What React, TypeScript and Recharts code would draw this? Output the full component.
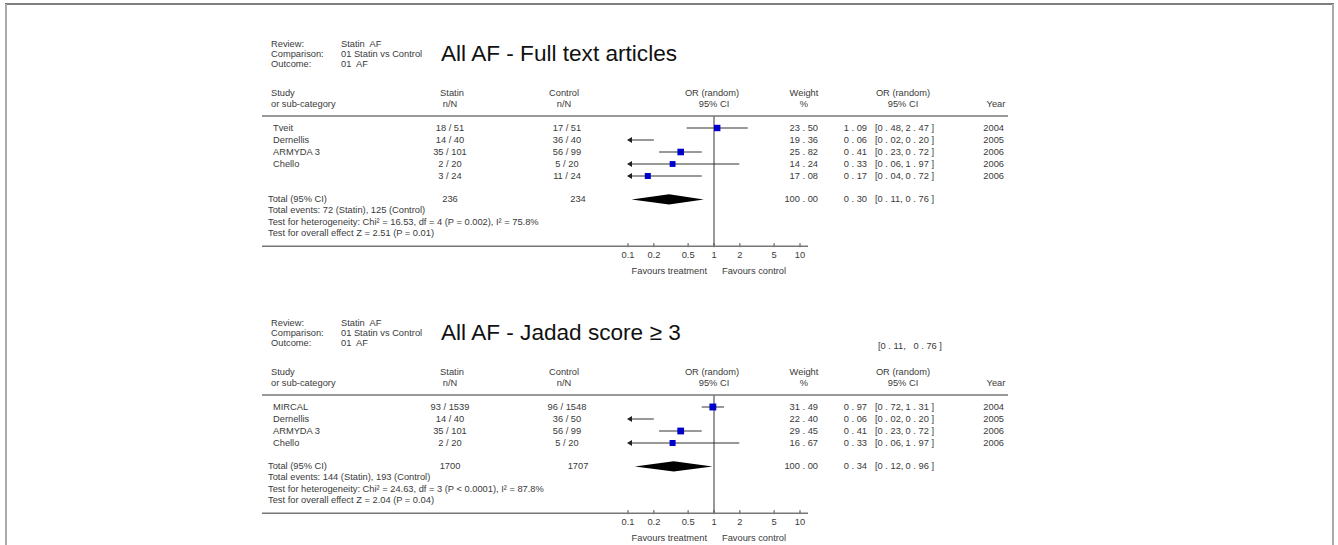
import React from 'react';
import {
  ComposedChart,
  Scatter,
  XAxis,
  YAxis,
  ReferenceLine,
  ReferenceArea,
} from 'recharts';

const FONT = '"Liberation Sans", Arial, sans-serif';
const INK = '#3a3a3a';
const SMALL = 9.3;

// ─── Shared axis ─────────────────────────────────────────
const XMIN = 0.1;
const XMAX = 10;
const axisTicks = [0.1, 0.2, 0.5, 1, 2, 5, 10];

// ─── Panel 1: full text articles ─────────────────────────
const names1 = ['Tveit', 'Dernellis', 'ARMYDA 3', 'Chello', ''];
const statin1 = ['18 / 51', '14 / 40', '35 / 101', '2 / 20', '3 / 24'];
const control1 = ['17 / 51', '36 / 40', '56 / 99', '5 / 20', '11 / 24'];
const weights1 = [23.5, 19.36, 25.82, 14.24, 17.08];
const or1 = [1.09, 0.06, 0.41, 0.33, 0.17];
const lo1 = [0.48, 0.02, 0.23, 0.06, 0.04];
const hi1 = [2.47, 0.2, 0.72, 1.97, 0.72];
const years1 = [2004, 2005, 2006, 2006, 2006];
const totalN1 = [236, 234];
const totalOr1 = [0.3, 0.11, 0.76];
const notes1 = [
  'Total events: 72 (Statin), 125 (Control)',
  'Test for heterogeneity: Chi² = 16.53, df = 4 (P = 0.002), I² = 75.8%',
  'Test for overall effect Z = 2.51 (P = 0.01)',
];

// ─── Panel 2: Jadad score >= 3 ───────────────────────────
const names2 = ['MIRCAL', 'Dernellis', 'ARMYDA 3', 'Chello'];
const statin2 = ['93 / 1539', '14 / 40', '35 / 101', '2 / 20'];
const control2 = ['96 / 1548', '36 / 50', '56 / 99', '5 / 20'];
const weights2 = [31.49, 22.4, 29.45, 16.67];
const or2 = [0.97, 0.06, 0.41, 0.33];
const lo2 = [0.72, 0.02, 0.23, 0.06];
const hi2 = [1.31, 0.2, 0.72, 1.97];
const years2 = [2004, 2005, 2006, 2006];
const totalN2 = [1700, 1707];
const totalOr2 = [0.34, 0.12, 0.96];
const notes2 = [
  'Total events: 144 (Statin), 193 (Control)',
  'Test for heterogeneity: Chi² = 24.63, df = 3 (P < 0.0001), I² = 87.8%',
  'Test for overall effect Z = 2.04 (P = 0.04)',
];

const fmt = (v: number) => v.toFixed(2).replace('.', ' . ');

function AxisTick(props: any) {
  const { x, y, payload } = props;
  return (
    <g>
      <line x1={x} x2={x} y1={y - 3} y2={y + 1} stroke="#444" />
      <text
        x={x}
        y={y + 9}
        textAnchor="middle"
        dominantBaseline="central"
        fontSize={SMALL}
        fontFamily={FONT}
        fill={INK}
      >
        {payload.value}
      </text>
    </g>
  );
}

function ciShape(clipped: boolean) {
  return (p: any) => (
    <g>
      <line x1={p.x1} y1={p.y1} x2={p.x2} y2={p.y2} stroke="#333" strokeWidth={1} />
      {clipped && (
        <polygon
          points={`${p.x1 - 1},${p.y1} ${p.x1 + 4},${p.y1 - 3} ${p.x1 + 4},${p.y1 + 3}`}
          fill="#222"
        />
      )}
    </g>
  );
}

function diamondShape(frac: number) {
  return (p: any) => {
    const { x, y, width, height } = p;
    const px = x + frac * width;
    const cy = y + height / 2;
    return (
      <polygon
        points={`${x},${cy} ${px},${y} ${x + width},${cy} ${px},${y + height}`}
        fill="#000"
      />
    );
  };
}

function Square(p: any) {
  const s = p.payload.size;
  return <rect x={p.cx - s / 2} y={p.cy - s / 2} width={s} height={s} fill="#0000cc" />;
}

interface PanelProps {
  top: number;
  title: string;
  names: string[];
  statin: string[];
  control: string[];
  weights: number[];
  ors: number[];
  los: number[];
  his: number[];
  years: number[];
  totalN: number[];
  totalOr: number[];
  notes: string[];
  stray?: string;
}

function Panel(props: PanelProps) {
  const { top, title, names, statin, control, weights, ors, los, his, years, totalN, totalOr, notes } = props;
  const n = names.length;
  const step = 12;
  const plotTop = 116;
  const span = n + 5.85;
  const plotBottom = plotTop + step * span;
  const chartH = Math.min(Math.round(plotBottom) + 45, 545 - top);
  const rowY = (i: number) => plotTop + step * (i + 1);
  const totalRow = n + 0.95;
  const totalY = rowY(totalRow);

  // squares scale only slightly with weight; off-scale estimates get no square
  const squares = ors
    .map((v, i) => ({ or: v, row: i, size: 5 + weights[i] * 0.06 }))
    .filter((d) => d.or >= XMIN);

  const frac =
    (Math.log(totalOr[0]) - Math.log(totalOr[1])) /
    (Math.log(totalOr[2]) - Math.log(totalOr[1]));

  const t = (x: number, y: number, s: string | number, anchor = 'start', size = SMALL, fill = INK) => (
    <text
      x={x}
      y={y}
      textAnchor={anchor as any}
      dominantBaseline="central"
      fontSize={size}
      fontFamily={FONT}
      fill={fill}
      style={{ whiteSpace: 'pre' }}
    >
      {s}
    </text>
  );

  return (
    <div style={{ position: 'absolute', left: 0, top, width: 1338, height: chartH }}>
      <ComposedChart
        width={1338}
        height={chartH}
        margin={{ top: plotTop, right: 1338 - 800, bottom: chartH - plotBottom - 20, left: 628 }}
      >
        <XAxis
          type="number"
          dataKey="or"
          scale="log"
          domain={[XMIN, XMAX]}
          ticks={axisTicks}
          interval={0}
          allowDataOverflow
          height={20}
          tickSize={0}
          tickMargin={0}
          tickLine={false}
          axisLine={false}
          tick={(p: any) => <AxisTick {...p} />}
        />
        <YAxis type="number" dataKey="row" domain={[-1, n + 4.85]} reversed hide allowDataOverflow />
        <ReferenceLine x={1} stroke="#555" strokeWidth={1.2} />
        {ors.map((_, i) => (
          <ReferenceLine
            key={`ci-${i}`}
            segment={[
              { x: Math.max(los[i], XMIN), y: i },
              { x: Math.min(his[i], XMAX), y: i },
            ]}
            shape={ciShape(los[i] < XMIN)}
          />
        ))}
        <ReferenceArea
          x1={totalOr[1]}
          x2={totalOr[2]}
          y1={totalRow - 0.42}
          y2={totalRow + 0.42}
          shape={diamondShape(frac)}
        />
        <Scatter data={squares} shape={Square} isAnimationActive={false} />
      </ComposedChart>

      <svg
        width={1338}
        height={chartH}
        style={{ position: 'absolute', left: 0, top: 0, pointerEvents: 'none' }}
      >
        {/* Header block */}
        {t(271, 44, 'Review:')}
        {t(271, 54, 'Comparison:')}
        {t(271, 64, 'Outcome:')}
        {t(341, 44, 'Statin  AF')}
        {t(341, 54, '01 Statin vs Control')}
        {t(341, 64, '01  AF')}
        {t(441, 53, title, 'start', 22.6, '#111')}
        {props.stray && t(910, 67, props.stray, 'middle')}

        {/* Column headers */}
        {t(271, 93, 'Study')}
        {t(271, 104, 'or sub-category')}
        {t(452, 93, 'Statin', 'middle')}
        {t(450, 104, 'n/N', 'middle')}
        {t(564, 93, 'Control', 'middle')}
        {t(564, 104, 'n/N', 'middle')}
        {t(712, 93, 'OR (random)', 'middle')}
        {t(714, 104, '95% CI', 'middle')}
        {t(804, 93, 'Weight', 'middle')}
        {t(804, 104, '%', 'middle')}
        {t(903, 93, 'OR (random)', 'middle')}
        {t(903, 104, '95% CI', 'middle')}
        {t(996, 104, 'Year', 'middle')}
        <line x1={262} x2={1008} y1={plotTop} y2={plotTop} stroke="#777" strokeWidth={1.6} />

        {/* Study rows */}
        {names.map((name, i) => (
          <g key={`row-${i}`}>
            {t(273, rowY(i), name)}
            {t(450, rowY(i), statin[i], 'middle')}
            {t(567, rowY(i), control[i], 'middle')}
            {t(818, rowY(i), fmt(weights[i]), 'end')}
            {t(867, rowY(i), fmt(ors[i]), 'end')}
            {t(875, rowY(i), `[${fmt(los[i])},`)}
            {t(934, rowY(i), `${fmt(his[i])} ]`, 'end')}
            {t(1004, rowY(i), years[i], 'end')}
          </g>
        ))}

        {/* Totals */}
        {t(268, totalY, 'Total (95% CI)')}
        {t(450, totalY, totalN[0], 'middle')}
        {t(578, totalY, totalN[1], 'middle')}
        {t(818, totalY, fmt(100), 'end')}
        {t(867, totalY, fmt(totalOr[0]), 'end')}
        {t(875, totalY, `[${fmt(totalOr[1])},`)}
        {t(934, totalY, `${fmt(totalOr[2])} ]`, 'end')}
        {t(268, totalY + 11, notes[0])}
        {t(268, totalY + 22.5, notes[1])}
        {t(268, totalY + 34, notes[2])}

        {/* Axis line and direction labels */}
        <line x1={262} x2={808} y1={plotBottom} y2={plotBottom} stroke="#777" strokeWidth={1.6} />
        {t(707, plotBottom + 25, 'Favours treatment', 'end')}
        {t(722, plotBottom + 25, 'Favours control')}
      </svg>
    </div>
  );
}

export default function App() {
  return (
    <div
      style={{
        position: 'absolute',
        left: 0,
        top: 0,
        width: 1338,
        height: 545,
        overflow: 'hidden',
        background: '#fff',
      }}
    >
      {/* Page frame */}
      <svg width={1338} height={545} style={{ position: 'absolute', left: 0, top: 0 }}>
        <line x1={5} x2={1334} y1={4} y2={4} stroke="#555" strokeWidth={1.5} />
        <line x1={6} x2={6} y1={4} y2={545} stroke="#aaa" strokeWidth={2} />
        <line x1={1333} x2={1333} y1={4} y2={545} stroke="#aaa" strokeWidth={2} />
      </svg>

      <Panel
        top={0}
        title="All AF - Full text articles"
        names={names1}
        statin={statin1}
        control={control1}
        weights={weights1}
        ors={or1}
        los={lo1}
        his={hi1}
        years={years1}
        totalN={totalN1}
        totalOr={totalOr1}
        notes={notes1}
      />
      <Panel
        top={279}
        title="All AF - Jadad score ≥ 3"
        names={names2}
        statin={statin2}
        control={control2}
        weights={weights2}
        ors={or2}
        los={lo2}
        his={hi2}
        years={years2}
        totalN={totalN2}
        totalOr={totalOr2}
        notes={notes2}
        stray="[0 . 11,   0 . 76 ]"
      />
    </div>
  );
}
